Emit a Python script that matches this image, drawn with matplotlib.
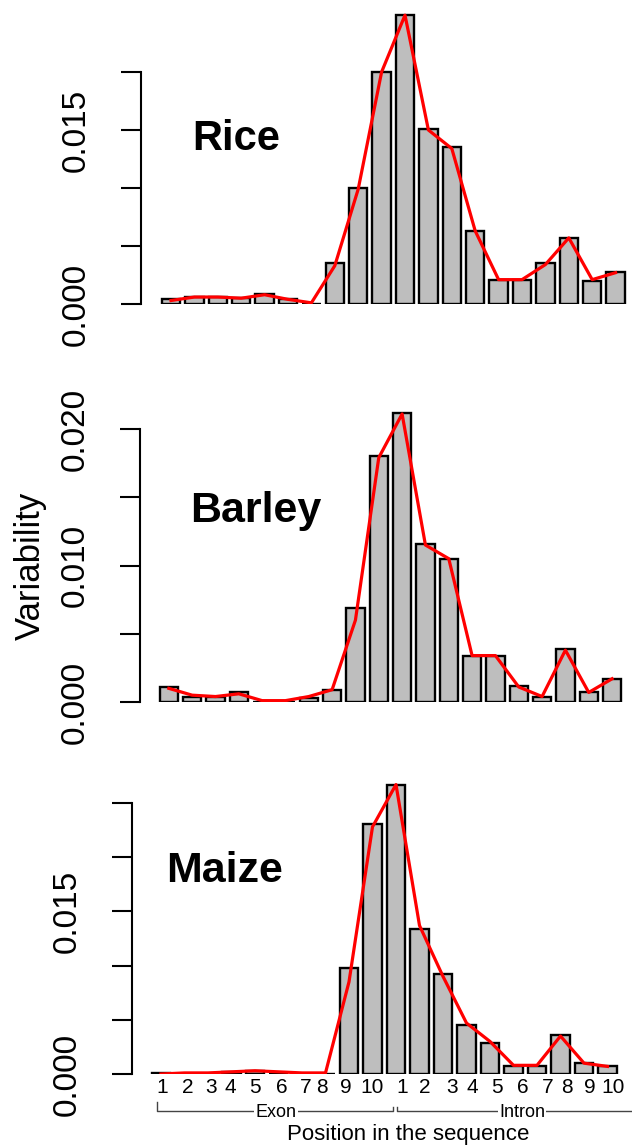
import matplotlib
matplotlib.use('Agg')
import matplotlib.pyplot as plt
import numpy as np

plt.rcParams['font.family'] = ['Liberation Sans', 'DejaVu Sans']

# positions 1-10 in the exon, then 1-10 in the intron
pos_labels = [str(i) for i in range(1, 11)] * 2

rice_bar = [0.0004, 0.0006, 0.0006, 0.0005, 0.0009, 0.0004, 0.0000, 0.0035, 0.0100, 0.0200,
            0.0249, 0.0151, 0.0135, 0.0063, 0.0021, 0.0021, 0.0035, 0.0057, 0.0020, 0.0028]
rice_line = [0.0003, 0.0006, 0.0006, 0.0005, 0.0008, 0.0004, 0.0001, 0.0033, 0.0099, 0.0200,
             0.0249, 0.0150, 0.0134, 0.0063, 0.0021, 0.0021, 0.0034, 0.0057, 0.0021, 0.0027]

barley_bar = [0.0011, 0.0004, 0.0004, 0.0007, 0.0000, 0.0000, 0.0003, 0.0009, 0.0069, 0.0180,
              0.0212, 0.0116, 0.0105, 0.0034, 0.0034, 0.0012, 0.0004, 0.0039, 0.0007, 0.0017]
barley_line = [0.0010, 0.0005, 0.0004, 0.0006, 0.0001, 0.0001, 0.0004, 0.0009, 0.0060, 0.0179,
               0.0211, 0.0115, 0.0105, 0.0034, 0.0034, 0.0011, 0.0004, 0.0038, 0.0007, 0.0017]

maize_bar = [0.0001, 0.0000, 0.0000, 0.0002, 0.0003, 0.0000, 0.0000, 0.0000, 0.0098, 0.0231,
             0.0267, 0.0134, 0.0092, 0.0045, 0.0029, 0.0007, 0.0007, 0.0036, 0.0010, 0.0007]
maize_line = [0.0000, 0.0001, 0.0001, 0.0002, 0.0003, 0.0002, 0.0001, 0.0001, 0.0085, 0.0228,
              0.0267, 0.0137, 0.0090, 0.0047, 0.0030, 0.0008, 0.0008, 0.0035, 0.0010, 0.0007]

rice_ticks = [0.0, 0.005, 0.010, 0.015, 0.020]
rice_ticklabels = ['0.000', '', '', '0.015', '']
barley_ticks = [0.0, 0.005, 0.010, 0.015, 0.020]
barley_ticklabels = ['0.000', '', '0.010', '', '0.020']
maize_ticks = [0.0, 0.005, 0.010, 0.015, 0.020, 0.025]
maize_ticklabels = ['0.000', '', '', '0.015', '', '']

W, H = 632, 1145
fig = plt.figure(figsize=(W / 100, H / 100), dpi=100)


def panel(bars, line, ticks, ticklabels, left, top, base, x0, step, ymax_tick, per5):
    # axes box in pixels: left spine at `left`, zero line at `base`
    ax = fig.add_axes([left / W, 1 - base / H, (W - left) / W, (base - top) / H])
    x = np.arange(len(bars))
    ax.bar(x, bars, width=0.78, color='#bebebe', edgecolor='black', linewidth=1.7, zorder=2)
    ax.plot(x, line, color='#ff0000', lw=2.3, zorder=3, solid_joinstyle='round')
    ax.set_xlim(-(x0 - left) / step, (W - x0) / step)
    ax.set_ylim(0, (base - top) / per5 * 0.005)
    ax.set_yticks(ticks)
    ax.set_yticklabels(ticklabels, rotation=90, va='center', fontsize=24)
    ax.tick_params(axis='y', length=14.4, width=1.5, pad=21)
    for s in ['top', 'right', 'bottom']:
        ax.spines[s].set_visible(False)
    ax.spines['left'].set_linewidth(1.5)
    ax.spines['left'].set_bounds(0, ymax_tick)
    ax.patch.set_alpha(0)
    return ax


ax1 = panel(rice_bar, rice_line, rice_ticks, rice_ticklabels, 141, 0, 304, 171, 23.4, 0.020, 58)
ax1.set_xticks([])
ax2 = panel(barley_bar, barley_line, barley_ticks, barley_ticklabels, 140, 400, 702, 168.8, 23.33, 0.020, 68.25)
ax2.set_xticks([])
ax3 = panel(maize_bar, maize_line, maize_ticks, maize_ticklabels, 132, 770, 1074, 161, 23.5, 0.025, 54.2)

# x labels sit a little off the bar centres in the original
label_px = [162, 188, 211, 230, 255, 282, 306, 322, 346, 372,
            402, 425, 452, 472, 497, 523, 548, 567, 590, 613]
ax3.set_xticks([(p - 161) / 23.5 for p in label_px])
ax3.set_xticklabels(pos_labels, fontsize=15)
ax3.tick_params(axis='x', length=0, pad=3)

# overlay in pixel coordinates for titles, brackets and axis captions
ov = fig.add_axes([0, 0, 1, 1])
ov.set_xlim(0, W)
ov.set_ylim(H, 0)
ov.axis('off')
ov.patch.set_alpha(0)

ov.text(192, 150, 'Rice', fontsize=30, fontweight='bold', va='baseline')
ov.text(190, 522, 'Barley', fontsize=31, fontweight='bold', va='baseline')
ov.text(166, 882, 'Maize', fontsize=31, fontweight='bold', va='baseline')

ov.text(30, 566, 'Variability', fontsize=25, rotation=90, ha='center', va='center')

bc = '#444444'
ov.plot([157, 157, 393, 393], [1102, 1111, 1111, 1107], color=bc, lw=1)
ov.plot([397, 397, 640], [1107, 1111, 1111], color=bc, lw=1)
ov.text(276, 1117, 'Exon', fontsize=13, ha='center', va='baseline',
        bbox=dict(facecolor='white', edgecolor='none', pad=1))
ov.text(522, 1117, 'Intron', fontsize=13, ha='center', va='baseline',
        bbox=dict(facecolor='white', edgecolor='none', pad=1))
ov.text(408, 1140, 'Position in the sequence', fontsize=16, ha='center', va='baseline')

fig.savefig('out.png', dpi=100)
